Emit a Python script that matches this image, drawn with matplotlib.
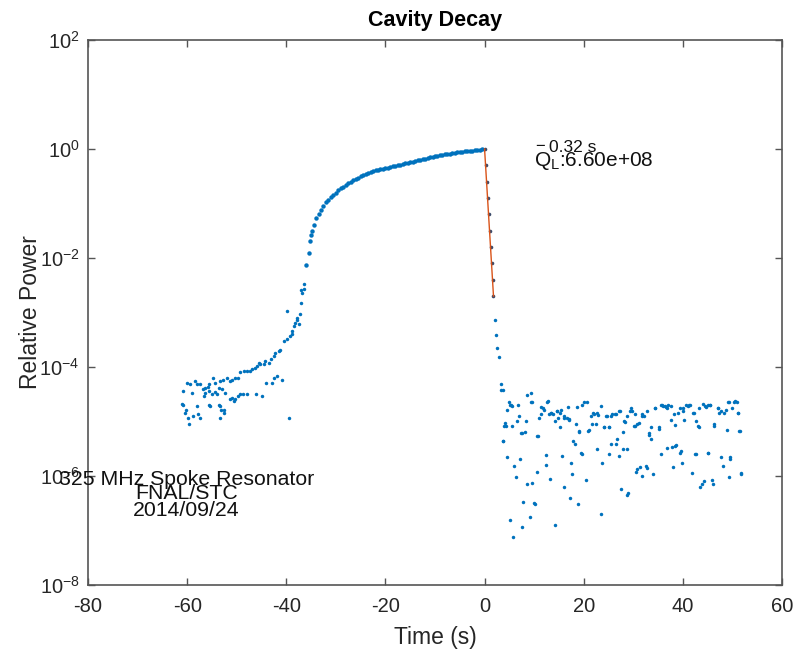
import numpy as np
import matplotlib
matplotlib.use("Agg")
import matplotlib.pyplot as plt
from matplotlib.ticker import FixedLocator, FuncFormatter

plt.rcParams['font.family'] = ['Liberation Sans', 'DejaVu Sans']
plt.rcParams['mathtext.fontset'] = 'custom'
plt.rcParams['mathtext.rm'] = 'Liberation Sans'
plt.rcParams['mathtext.it'] = 'Liberation Sans'
plt.rcParams['mathtext.default'] = 'regular'
plt.rcParams['axes.unicode_minus'] = False

# ---------------- data (time in s, log10 of relative power) ----------------
# left noisy region and start of the rise
t_left = [-36.36, -36.50, -36.84, -37.04, -37.31, -37.85, -38.18, -38.52, -38.86, -39.19,
          -39.87, -40.54, -41.21, -41.55, -42.22, -42.56, -43.10, -43.57, -44.24, -44.58,
          -45.25, -45.59, -45.93, -46.26, -46.94, -47.27, -47.95, -48.62, -49.29, -49.83,
          -50.30, -50.98, -51.45, -51.99, -52.79, -53.33, -53.67, -54.34, -54.81, -55.49,
          -55.89, -56.36, -56.84, -57.37, -58.05, -58.38, -59.06, -59.39, -60.07, -60.74,
          -60.88, -61.08, -60.20, -60.40, -59.73, -59.53, -58.86, -58.05, -57.37, -57.71,
          -56.70, -56.36, -55.69, -55.02, -54.34, -54.01, -53.33, -53.67, -53.20, -52.66,
          -52.53, -53.47, -55.35, -55.49, -53.00, -52.32, -51.31, -50.98, -50.64, -50.30,
          -49.83, -49.29, -48.75, -47.95, -46.06, -44.92, -44.04, -42.90, -42.42, -41.89,
          -40.88, -39.87, -39.53, -38.86, -37.85, -37.51, -37.04]
lp_left = [-2.48, -2.56, -2.64, -2.82, -3.03, -3.14, -3.19, -3.25, -3.34, -3.43,
           -3.49, -3.52, -3.68, -3.71, -3.74, -3.80, -3.86, -3.92, -3.89, -3.95,
           -3.95, -3.92, -3.98, -4.01, -4.04, -4.07, -4.07, -4.07, -4.10, -4.20,
           -4.20, -4.23, -4.26, -4.20, -4.23, -4.26, -4.38, -4.29, -4.20, -4.32,
           -4.37, -4.38, -4.41, -4.32, -4.32, -4.26, -4.47, -4.32, -4.29, -4.44,
           -4.69, -4.67, -4.78, -4.84, -4.93, -5.05, -4.90, -4.72, -4.93, -4.87,
           -4.53, -4.47, -4.44, -4.50, -4.45, -4.50, -4.72, -4.70, -4.78, -4.78,
           -4.84, -4.94, -4.72, -4.69, -4.41, -4.47, -4.59, -4.56, -4.62, -4.59,
           -4.53, -4.50, -4.50, -4.50, -4.50, -4.53, -4.29, -4.29, -4.20, -4.17,
           -4.23, -2.98, -4.93, -3.40, -3.11, -3.22, -2.58]

# smooth fill-up curve
t_fill = [-36.0, -35.5, -35.2, -35.0, -34.8, -34.5, -34.0, -33.5, -33.0, -32.5,
          -32.0, -31.5, -31.0, -30.5, -30.0, -29.5, -29.0, -28.5, -28.0, -27.5,
          -27.0, -26.5, -26.0, -25.5, -25.0, -24.5, -24.0, -23.5, -23.0, -22.5,
          -22.0, -21.5, -21.0, -20.5, -20.0, -19.5, -19.0, -18.5, -18.0, -17.5,
          -17.0, -16.5, -16.0, -15.5, -15.0, -14.5, -14.0, -13.5, -13.0, -12.5,
          -12.0, -11.5, -11.0, -10.5, -10.0, -9.5, -9.0, -8.5, -8.0, -7.5,
          -7.0, -6.5, -6.0, -5.5, -5.0, -4.5, -4.0, -3.5, -3.0, -2.5,
          -2.0, -1.5, -1.0, -0.5]
lp_fill = [-2.12, -1.91, -1.69, -1.58, -1.50, -1.40, -1.27, -1.19, -1.12, -1.05,
           -0.98, -0.93, -0.88, -0.84, -0.80, -0.76, -0.72, -0.69, -0.66, -0.63,
           -0.60, -0.575, -0.55, -0.525, -0.50, -0.48, -0.46, -0.44, -0.42, -0.40,
           -0.39, -0.38, -0.37, -0.36, -0.35, -0.34, -0.33, -0.32, -0.31, -0.30,
           -0.285, -0.272, -0.26, -0.25, -0.24, -0.23, -0.22, -0.21, -0.20, -0.19,
           -0.18, -0.168, -0.155, -0.145, -0.135, -0.125, -0.115, -0.107, -0.10, -0.092,
           -0.085, -0.078, -0.07, -0.062, -0.055, -0.05, -0.045, -0.04, -0.035, -0.028,
           -0.02, -0.015, -0.01, -0.005]

# decay (data points and exponential fit)
t_decay = [0.0, 0.2, 0.4, 0.6, 0.8, 1.0, 1.2, 1.4, 1.6, 1.8]
lp_decay = [0.0, -0.30, -0.60, -0.90, -1.20, -1.50, -1.80, -2.10, -2.40, -2.70]

# right noisy region after the RF is off
t_right = [2.02, 2.36, 2.56, 2.90, 3.23, 3.37, 3.64, 9.29, 8.62, 9.63,
           4.44, 5.12, 5.59, 6.73, 4.11, 3.84, 5.59, 6.46, 6.94, 8.28,
           7.41, 8.08, 3.70, 4.58, 5.93, 6.26, 7.14, 10.77, 11.45, 11.85,
           11.31, 10.98, 12.79, 13.00, 13.47, 13.80, 14.14, 14.55, 14.81, 15.15,
           15.35, 16.03, 16.57, 16.84, 17.04, 18.38, 18.72, 19.12, 19.60, 20.07,
           20.61, 20.88, 21.41, 21.95, 22.42, 22.90, 23.43, 24.11, 24.65, 25.12,
           25.45, 26.26, 27.34, 28.15, 28.82, 29.49, 29.83, 30.30, 31.18, 31.72,
           32.19, 33.20, 33.54, 33.67, 34.34, 35.22, 35.89, 36.36, 36.90, 37.58,
           38.38, 38.92, 39.39, 39.93, 40.61, 41.08, 41.48, 42.15, 42.63, 42.96,
           43.30, 43.97, 44.44, 44.98, 45.52, 46.33, 47.14, 47.68, 48.22, 49.02,
           49.83, 50.51, 50.91, 51.18, 51.45,
           17.91, 18.18, 19.39, 19.73, 25.59, 26.46, 26.80, 27.14, 28.01, 28.82,
           22.76, 23.77, 25.12, 35.56, 36.77, 37.71, 38.38, 39.46, 42.49, 45.12,
           47.68, 49.56,
           8.62, 9.63, 9.97, 10.64, 12.46, 12.32, 13.20, 15.69, 16.03, 17.37,
           17.71, 17.24, 18.86, 20.47, 30.51, 30.84, 31.38, 31.85, 32.53, 32.73,
           34.07, 38.11, 39.73, 41.75, 43.43, 43.77, 44.31, 45.79, 45.99, 48.01,
           49.36, 51.72, 27.47, 28.69, 28.96,
           5.12, 5.79, 7.61, 7.81, 9.09, 14.14, 23.57, 10.10,
           22.09, 22.76, 24.44, 25.79, 26.46, 27.14, 29.29, 30.36, 31.85, 32.86,
           34.41, 35.56, 36.03, 36.57, 37.10, 38.25, 19.06, 21.08, 21.62, 24.11,
           25.12, 27.95, 28.35, 30.17, 30.84, 33.20, 35.09, 37.58,
           39.93, 40.27, 41.28, 41.95, 43.30, 44.65, 45.52, 46.33, 47.00, 47.34,
           48.69, 48.89, 49.36, 50.37, 51.04, 51.38, 38.59, 39.60, 42.63, 45.12,
           49.56, 51.72,
           4.92, 5.39, 9.43, 11.99, 12.66, 13.33, 14.68, 15.22, 16.03, 17.04,
           4.24, 7.61, 10.64, 3.77]
lp_right = [-3.14, -3.42, -3.65, -3.82, -4.31, -4.43, -4.43, -4.47, -4.52, -4.64,
            -4.78, -4.69, -4.72, -4.70, -5.02, -5.08, -5.08, -4.99, -4.90, -4.99,
            -5.22, -5.20, -5.36, -5.65, -5.82, -6.02, -5.68, -5.27, -4.73, -4.76,
            -4.87, -4.93, -4.62, -4.86, -4.84, -4.86, -4.99, -4.81, -4.93, -5.11,
            -4.78, -4.90, -4.94, -4.73, -4.96, -5.05, -4.73, -5.19, -4.70, -4.65,
            -4.64, -5.17, -4.90, -4.84, -5.05, -4.88, -4.72, -5.11, -4.90, -5.11,
            -4.90, -4.87, -4.81, -4.99, -4.90, -4.75, -4.80, -5.08, -5.02, -4.87,
            -4.90, -5.24, -5.11, -5.33, -4.76, -5.11, -4.69, -4.72, -4.75, -4.72,
            -5.06, -4.84, -4.75, -4.76, -4.70, -4.72, -4.69, -4.84, -4.99, -5.08,
            -4.75, -4.67, -4.72, -4.70, -4.69, -5.08, -4.75, -4.81, -4.84, -4.65,
            -4.75, -4.62, -4.64, -4.84, -5.17,
            -5.36, -5.41, -5.57, -5.60, -5.42, -5.42, -5.33, -5.63, -5.51, -5.51,
            -5.51, -5.76, -5.60, -5.60, -5.48, -5.47, -5.45, -5.57, -5.59, -5.57,
            -5.65, -5.66,
            -6.14, -6.12, -6.49, -5.92, -5.61, -5.80, -6.06, -5.63, -6.20, -5.77,
            -5.96, -6.41, -6.51, -6.08, -5.92, -5.88, -5.83, -6.00, -5.82, -5.85,
            -5.96, -5.83, -5.76, -5.94, -6.20, -6.14, -6.09, -6.08, -6.14, -5.82,
            -6.02, -5.96, -6.24, -6.35, -6.32,
            -6.81, -7.12, -6.94, -6.48, -6.76, -6.89, -6.70, -6.51,
            -4.87, -4.84, -4.90, -4.87, -4.87, -4.80, -4.80, -4.86, -4.90, -4.80,
            -4.75, -4.69, -4.72, -4.73, -4.70, -4.87, -5.17, -5.16, -5.04, -5.10,
            -5.10, -5.20, -5.00, -5.08, -5.04, -5.22, -5.13, -4.98,
            -4.80, -4.98, -4.69, -4.84, -5.10, -4.73, -4.69, -5.04, -4.75, -4.84,
            -4.78, -5.16, -4.65, -4.64, -4.84, -5.17, -5.43, -5.55, -5.59, -5.57,
            -5.68, -5.94,
            -4.65, -4.70, -4.65, -4.78, -4.64, -4.84, -4.81, -4.84, -4.93, -4.98,
            -5.08, -5.22, -5.27, -5.36]

x_ticks = [-80, -60, -40, -20, 0, 20, 40, 60]
y_tick_exps = [-8, -6, -4, -2, 0, 2]

title = "Cavity Decay"
xlabel = "Time (s)"
ylabel = "Relative Power"
tau_text = "0.32 s"
ql_text = r"Q$_{L}$:6.60e+08"
info_lines = ["325 MHz Spoke Resonator", "FNAL/STC", "2014/09/24"]

# ---------------- plotting ----------------
BLUE = "#0072BD"
ORANGE = "#D95319"

fig = plt.figure(figsize=(7.94, 6.51), dpi=100)
ax = fig.add_axes([88/794, 1-585/651, (782-88)/794, (585-40)/651])

def pw(lst):
    return 10.0 ** np.asarray(lst)

mk = dict(linestyle='none', marker='o', ms=2.5, mew=0, color=BLUE)
ax.plot(t_left, pw(lp_left), **mk)
ax.plot(t_fill, pw(lp_fill), linestyle='none', marker='o', ms=3.2, mew=0, color=BLUE)
ax.plot(t_decay, pw(lp_decay), linestyle='none', marker='o', ms=2.6, mew=0, color='#3a4a6a', zorder=3)
ax.plot(t_right, pw(lp_right), **mk)
ax.plot(t_decay, pw(lp_decay), color=ORANGE, lw=1.0, zorder=4)

ax.set_yscale('log')
ax.set_xlim(-80, 60)
ax.set_ylim(1e-8, 1e2)
ax.xaxis.set_major_locator(FixedLocator(x_ticks))
ax.yaxis.set_major_locator(FixedLocator([10.0**e for e in y_tick_exps]))
ax.yaxis.set_minor_locator(FixedLocator([]))
ax.yaxis.set_major_formatter(FuncFormatter(lambda v, p: r"$10^{%d}$" % round(np.log10(v))))
ax.xaxis.set_major_formatter(FuncFormatter(lambda v, p: "%d" % v))

for s in ax.spines.values():
    s.set_color('#555555')
    s.set_linewidth(1.2)
ax.tick_params(axis='both', which='both', direction='in', top=True, right=True,
               length=5, width=1.0, color='#555555', labelsize=14.5, labelcolor='#262626')
ax.tick_params(axis='x', pad=9)
ax.tick_params(axis='y', pad=6)

ax.set_title(title, fontsize=15.5, fontweight='bold', pad=10, color='black')
ax.set_xlabel(xlabel, fontsize=16.5, color='#262626', labelpad=7)
ax.set_ylabel(ylabel, fontsize=16.5, color='#262626', labelpad=-2)

# annotations
ax.text(11.2, 10**0.05, "\u2212", fontsize=12, ha='center', va='center', color='#111111')
ax.text(12.9, 10**0.02, tau_text, fontsize=12.5, ha='left', va='center', color='#111111')
ax.text(10.0, 10**-0.22, ql_text, fontsize=15, ha='left', va='center', color='#111111')

info_y = [-6.06, -6.33, -6.64]
for line, ly in zip(info_lines, info_y):
    ax.text(-60.2, 10**ly, line, fontsize=15.3, ha='center', va='center', color='#111111')

fig.savefig("out.png", dpi=100)
